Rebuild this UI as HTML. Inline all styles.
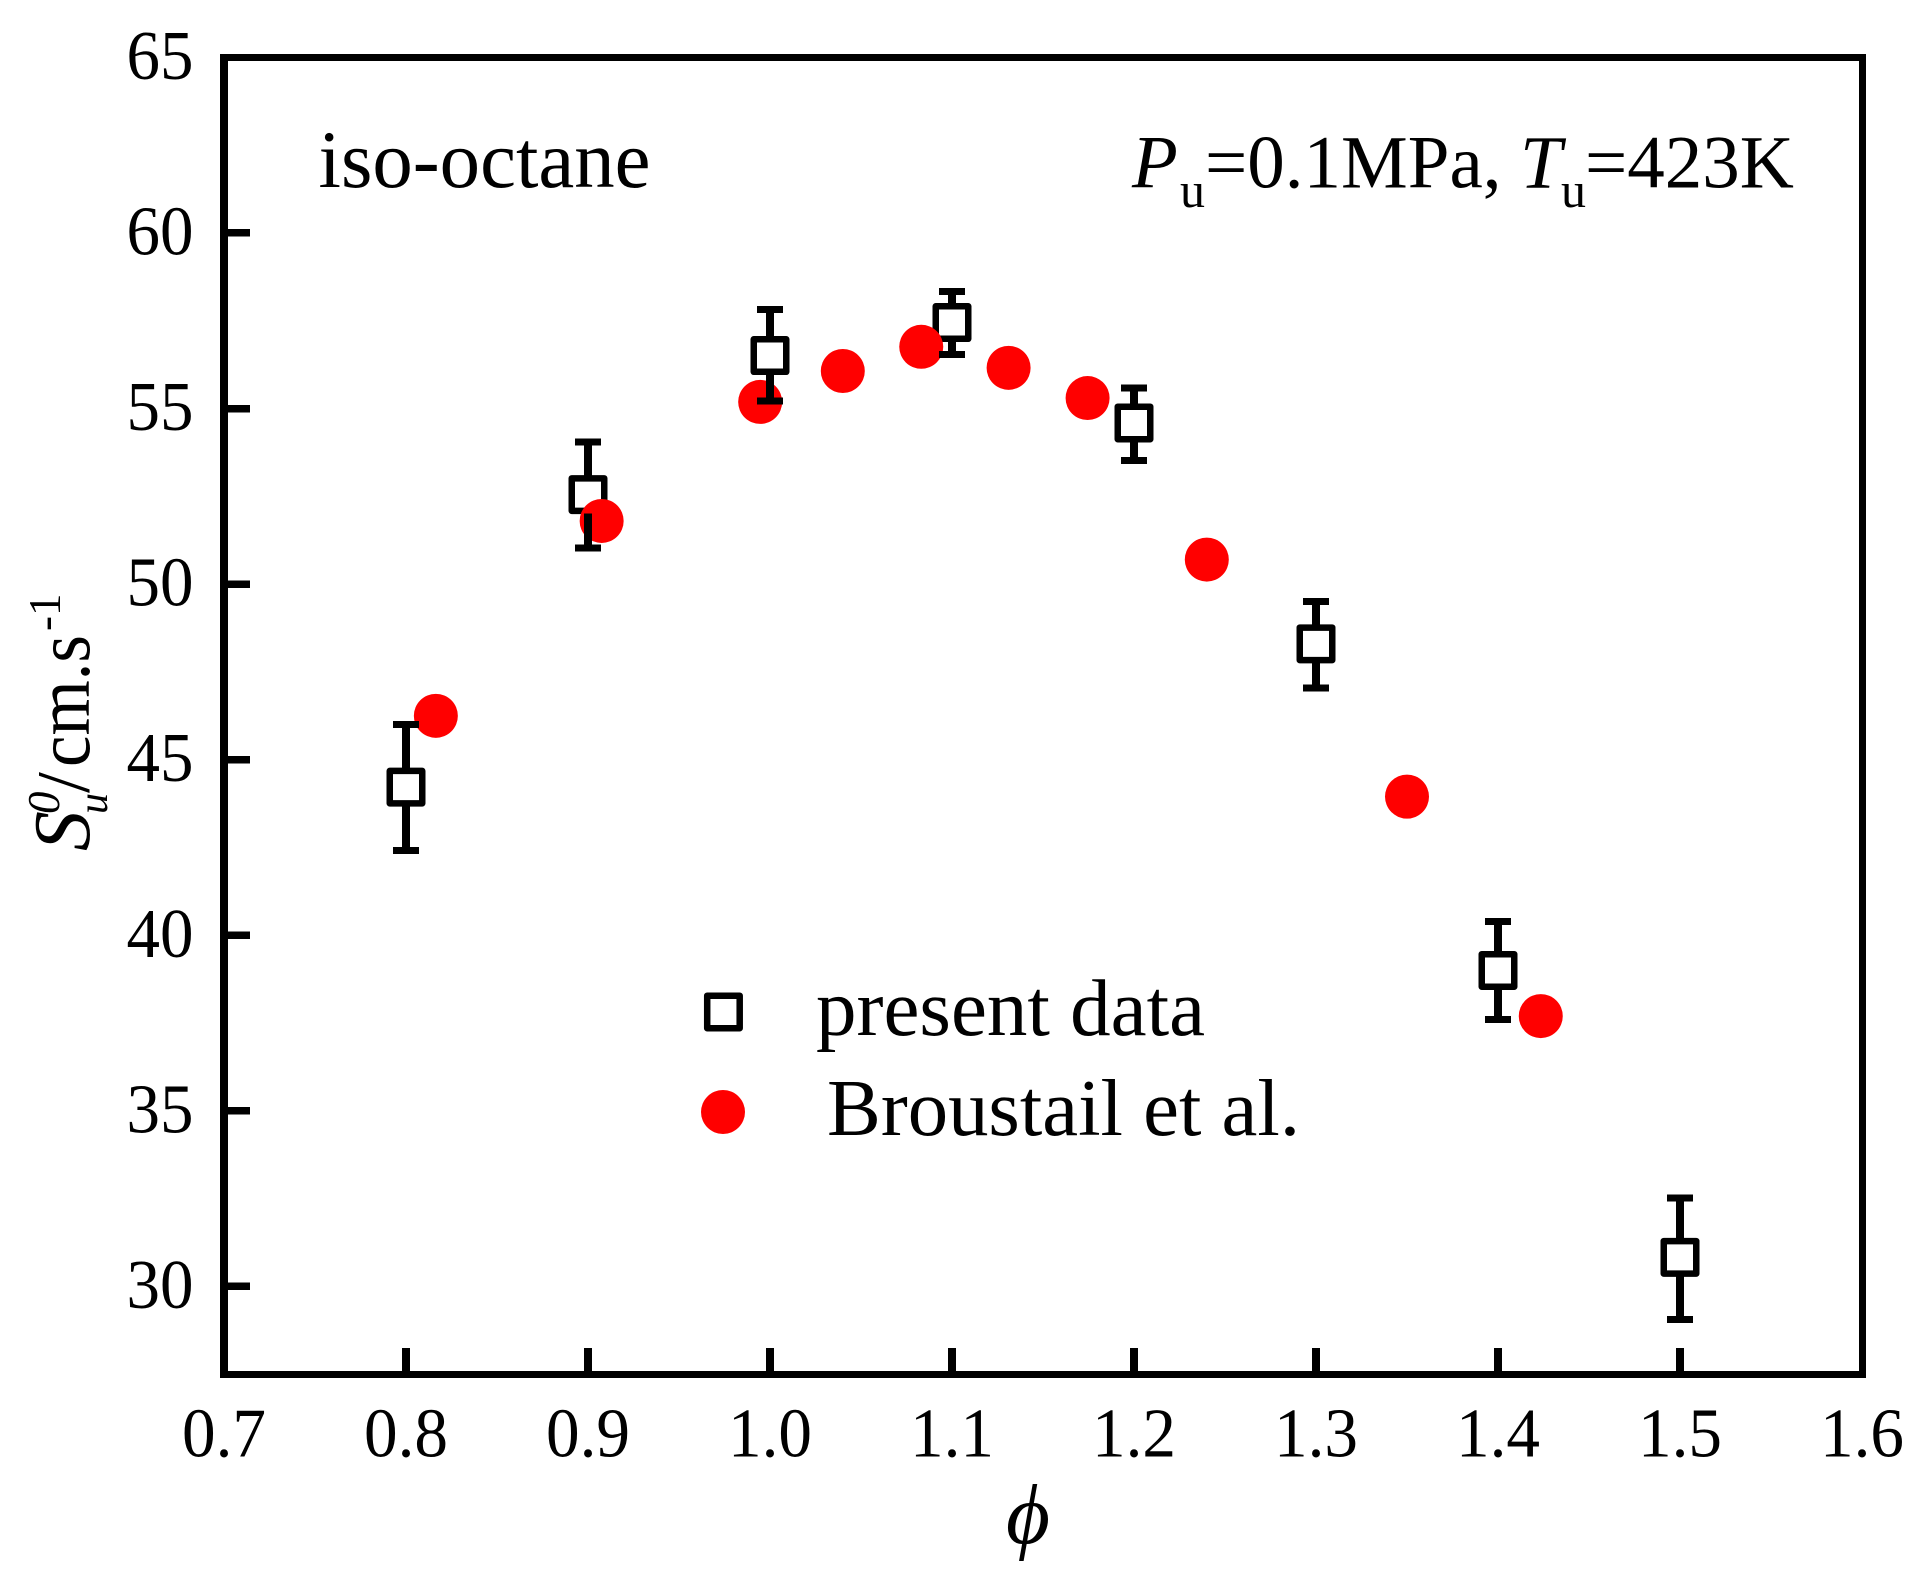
<!DOCTYPE html>
<html lang="en">
<head>
<meta charset="utf-8">
<title>Laminar burning velocity of iso-octane</title>
<style>
html,body{margin:0;padding:0;background:#fff;}
svg{display:block;font-family:"Liberation Serif",serif;fill:#000;}
</style>
</head>
<body>
<svg id="chart" xmlns="http://www.w3.org/2000/svg" width="1925" height="1580" viewBox="0 0 1925 1580">
  <rect x="0" y="0" width="1925" height="1580" fill="#fff"/>
  <g id="marks"></g>
  <g id="ticks"></g>
  <g fill="#000">
    <rect x="220" y="54" width="8" height="1324"/>
    <rect x="1859" y="54" width="7" height="1324"/>
    <rect x="220" y="54" width="1646" height="7"/>
    <rect x="220" y="1371" width="1646" height="7"/>
  </g>
  <text x="318.5" y="187" font-size="82" textLength="332" lengthAdjust="spacingAndGlyphs">iso-octane</text>
  <g font-size="75">
    <text x="1132" y="187.3" font-style="italic">P</text>
    <text x="1180" y="207" font-size="50">u</text>
    <text x="1205" y="187.3">=0.1MPa,</text>
    <text x="1520" y="187.3" font-style="italic">T</text>
    <text x="1561" y="207" font-size="50">u</text>
    <text x="1585" y="187.3">=423K</text>
  </g>
  <g transform="translate(89,850) rotate(-90)" font-size="75">
    <text x="-1" y="0" font-size="80" font-style="italic">S</text>
    <text x="36" y="-30" font-size="45" font-style="italic">0</text>
    <text x="36" y="18" font-size="42" font-style="italic">u</text>
    <text x="57" y="0">/</text>
    <text x="83" y="0" font-size="77" textLength="132" lengthAdjust="spacingAndGlyphs">cm.s</text>
    <text x="219" y="-29" font-size="45">-1</text>
  </g>
  <text x="1028" y="1543" font-size="85" font-style="italic" text-anchor="middle">&#981;</text>
  <g>
    <rect x="707.2" y="995.7" width="32.5" height="32.5" fill="#fff" stroke="#000" stroke-width="6.5" stroke-linejoin="round"/>
    <text x="816" y="1035" font-size="81">present data</text>
    <circle cx="723" cy="1112" r="22" fill="#f00"/>
    <text x="827" y="1135" font-size="81" textLength="473" lengthAdjust="spacingAndGlyphs">Broustail et al.</text>
  </g>
</svg>
<script>
const xTickValues = [0.7, 0.8, 0.9, 1.0, 1.1, 1.2, 1.3, 1.4, 1.5, 1.6];
const xTickLabels = ["0.7", "0.8", "0.9", "1.0", "1.1", "1.2", "1.3", "1.4", "1.5", "1.6"];
const yTickValues = [30, 35, 40, 45, 50, 55, 60, 65];
const yTickLabels = ["30", "35", "40", "45", "50", "55", "60", "65"];

const presentPhi = [0.8, 0.9, 1.0, 1.1, 1.2, 1.3, 1.4, 1.5];
const presentSpeed = [44.22, 52.55, 56.51, 57.45, 54.59, 48.3, 39.0, 30.83];
const presentUpper = [46.01, 54.05, 57.82, 58.33, 55.59, 49.5, 40.4, 32.52];
const presentLower = [42.42, 51.03, 55.21, 56.54, 53.52, 47.05, 37.6, 29.06];

const broustailPhi = [0.8164, 0.9075, 0.9946, 1.040, 1.0831, 1.1311, 1.1745, 1.24, 1.35, 1.4235];
const broustailSpeed = [46.25, 51.8, 55.19, 56.07, 56.76, 56.16, 55.30, 50.7, 43.95, 37.7];

const NS = "http://www.w3.org/2000/svg";
function xScale(v){ return 224 + (v - 0.7) * 1820; }
function yScale(v){ return 57.4 + (65 - v) * 35.117; }
function make(tag, attrs, parent){
  const el = document.createElementNS(NS, tag);
  for (const k in attrs) el.setAttribute(k, attrs[k]);
  parent.appendChild(el);
  return el;
}
const marks = document.getElementById("marks");
const ticks = document.getElementById("ticks");

xTickValues.forEach(function(v, i){
  const x = xScale(v);
  if (i > 0 && i < xTickValues.length - 1) {
    const t = make("rect", {x:x - 4, y:1348, width:8, height:26, fill:"#000", "shape-rendering":"crispEdges"}, ticks);
    
    
  }
  const l = make("text", {x:x - 42, y:1456.5, "font-size":70, textLength:84, lengthAdjust:"spacingAndGlyphs"}, ticks);
  
  
  l.textContent = xTickLabels[i];
});
yTickValues.forEach(function(v, i){
  const y = yScale(v);
  if (i < yTickValues.length - 1) {
    const t = make("rect", {x:225, y:y - 3.75, width:25, height:7.5, fill:"#000", "shape-rendering":"crispEdges"}, ticks);
    
    
  }
  const l = make("text", {x:126.5, y:y + 21.5, "font-size":70, textLength:67, lengthAdjust:"spacingAndGlyphs"}, ticks);
  
  
  l.textContent = yTickLabels[i];
});

presentPhi.forEach(function(p, i){
  const s = make("rect", {x:xScale(p) - 16.25, y:yScale(presentSpeed[i]) - 16.25, width:32.5, height:32.5, fill:"#fff", stroke:"#000", "stroke-width":6.5, "stroke-linejoin":"round"}, marks);
  
  
});
broustailPhi.forEach(function(p, i){
  const c = make("circle", {cx:xScale(p), cy:yScale(broustailSpeed[i]), r:22, fill:"#f00"}, marks);
  
  
});
presentPhi.forEach(function(p, i){
  const x = xScale(p), y = yScale(presentSpeed[i]);
  const top = yScale(presentUpper[i]), bot = yScale(presentLower[i]);
  const stem = "M" + x + " " + (y - 19) + "V" + top + "M" + x + " " + (y + 19) + "V" + bot;
  const caps = "M" + (x - 13) + " " + top + "H" + (x + 13) + "M" + (x - 13) + " " + bot + "H" + (x + 13);
  const e = make("path", {d:stem, fill:"none", stroke:"#000", "stroke-width":8, "shape-rendering":"crispEdges"}, marks);
  
  
  const c = make("path", {d:caps, fill:"none", stroke:"#000", "stroke-width":7, "shape-rendering":"crispEdges"}, marks);
  
  
});
</script>
</body>
</html>
